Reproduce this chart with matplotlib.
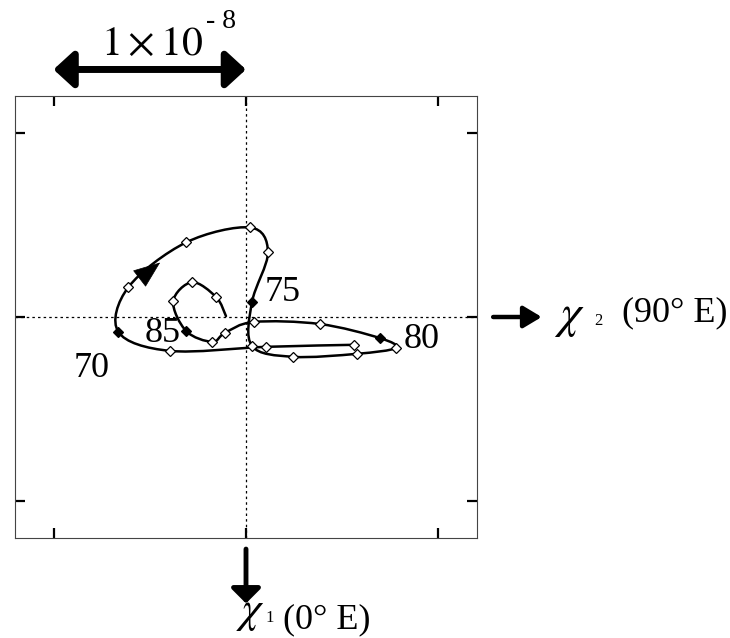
import matplotlib
matplotlib.use('Agg')
import matplotlib.pyplot as plt
from matplotlib.path import Path
from matplotlib.patches import PathPatch
import numpy as np

plt.rcParams['font.family'] = ['Liberation Serif', 'DejaVu Serif']
plt.rcParams['mathtext.fontset'] = 'stix'

# excitation path, units of 1e-9 (chi2 to the right, chi1 downward)
years = [1967, 1968, 1969, 1970, 1971, 1972, 1973, 1974, 1975, 1976, 1977,
         1978, 1979, 1980, 1981, 1982, 1983, 1984, 1985, 1986, 1987, 1988, 1988.7]
chi2 = [5.60, 1.04, -3.94, -6.63, -6.11, -3.11, 0.21, 1.14, 0.31, 0.31, 2.44,
        5.75, 7.77, 6.94, 3.83, 0.41, -1.09, -1.76, -3.11, -3.78, -2.80, -1.55, -1.04]
chi1 = [1.51, 1.62, 1.84, 0.81, -1.62, -4.05, -4.86, -3.51, -0.81, 1.57, 2.16,
        2.00, 1.68, 1.14, 0.38, 0.27, 0.86, 1.35, 0.76, -0.86, -1.89, -1.08, -0.05]
labelled = [1970, 1975, 1980, 1985]
label_offsets = {1970: (-27, -37), 1975: (31, 10), 1980: (42, -2), 1985: (-24, -3)}

W, H = 730, 638
fig = plt.figure(figsize=(W / 100, H / 100), dpi=100)
ax = fig.add_axes([15 / W, 1 - 538 / H, 462 / W, 442 / H])

def fx(x, y):
    return x / W, 1 - y / H

# smooth curve through the yearly points (Catmull-Rom drawn as Bezier path)
P = np.column_stack([chi2, chi1])
ext = np.vstack([P[0], P, P[-1]])
verts = [P[0]]
codes = [Path.MOVETO]
for i in range(len(P) - 1):
    p0, p1, p2, p3 = ext[i], ext[i + 1], ext[i + 2], ext[i + 3]
    verts += [p1 + (p2 - p0) / 6, p2 - (p3 - p1) / 6, p2]
    codes += [Path.CURVE4] * 3
ax.add_patch(PathPatch(Path(verts, codes), fill=False, lw=1.8, color='k',
                       capstyle='round', joinstyle='round', zorder=3))

ax.axhline(0, color='k', lw=0.9, ls=(0, (2, 2.5)), zorder=1)
ax.axvline(0, color='k', lw=0.9, ls=(0, (2, 2.5)), zorder=1)

yr = np.array(years)
full = np.isin(yr, labelled)
openm = (yr == np.round(yr)) & ~full
ax.plot(np.array(chi2)[openm], np.array(chi1)[openm], ls='none', marker='D',
        ms=4.8, mfc='white', mec='k', mew=0.9, zorder=4)
ax.plot(np.array(chi2)[full], np.array(chi1)[full], ls='none', marker='D',
        ms=5.2, mfc='k', mec='k', mew=0.9, zorder=4)

for y in labelled:
    i = years.index(y)
    ax.annotate(str(y)[2:], (chi2[i], chi1[i]), xytext=label_offsets[y],
                textcoords='offset pixels', fontsize=26, ha='center', va='center')

# direction arrow between 1971 and 1972
i = years.index(1971)
a = P[i] + 0.35 * (P[i + 1] - P[i])
b = P[i] + 0.55 * (P[i + 1] - P[i])
ax.annotate('', xy=b, xytext=a,
            arrowprops=dict(arrowstyle='-|>,head_length=0.9,head_width=0.35',
                            color='k', lw=0.5, shrinkA=0, shrinkB=0,
                            mutation_scale=20), zorder=5)

ax.set_xlim(-12, 12)
ax.set_ylim(12, -12)
ax.set_xticks([-10, 0, 10])
ax.set_yticks([-10, 0, 10])
ax.tick_params(direction='in', length=7, width=1.6, top=True, right=True,
               labelbottom=False, labelleft=False)
for s in ax.spines.values():
    s.set_linewidth(0.8)
    s.set_color('#444444')

# scale bar
ax.annotate('', xy=(-10, 1.06), xytext=(0, 1.06), xycoords=('data', 'axes fraction'),
            arrowprops=dict(arrowstyle='<|-|>,head_length=0.6,head_width=0.55',
                            color='k', lw=5, shrinkA=0, shrinkB=0,
                            mutation_scale=20), annotation_clip=False)
fig.text(*fx(152, 45), r'$1\times10$', fontsize=30, ha='center', va='center')
fig.text(*fx(221, 22), '- 8', fontsize=20, ha='center', va='center')

# chi2 axis arrow
ax.annotate('', xy=(1.14, 0), xytext=(1.035, 0), xycoords=('axes fraction', 'data'),
            arrowprops=dict(arrowstyle='-|>,head_length=0.55,head_width=0.33',
                            color='k', lw=3.2, shrinkA=0, shrinkB=0,
                            mutation_scale=20), annotation_clip=False)
fig.text(*fx(569, 318), r'$\chi$', fontsize=34, ha='center', va='center')
fig.text(*fx(598, 321), '2', fontsize=12, ha='center', va='center')
fig.text(*fx(675, 313), '(90° E)', fontsize=26, ha='center', va='center')

# chi1 axis arrow
ax.annotate('', xy=(0, -0.148), xytext=(0, -0.025), xycoords=('data', 'axes fraction'),
            arrowprops=dict(arrowstyle='-|>,head_length=0.45,head_width=0.45',
                            color='k', lw=3.5, shrinkA=0, shrinkB=0,
                            mutation_scale=20), annotation_clip=False)
fig.text(*fx(250, 613), r'$\chi$', fontsize=32, ha='center', va='center')
fig.text(*fx(270, 618), '1', fontsize=12, ha='center', va='center')
fig.text(*fx(327, 620), '(0° E)', fontsize=26, ha='center', va='center')

fig.savefig('out.png', dpi=100)
